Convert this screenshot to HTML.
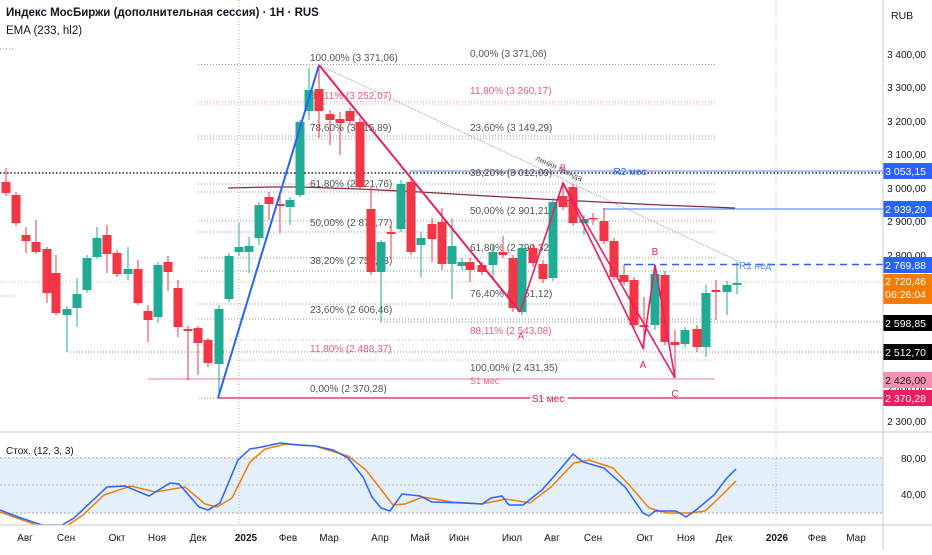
<!DOCTYPE html>
<html><head><meta charset="utf-8">
<style>
html,body{margin:0;padding:0;background:#fff;}
body{width:932px;height:550px;overflow:hidden;font-family:"Liberation Sans","DejaVu Sans",sans-serif;}
svg text{font-family:"Liberation Sans","DejaVu Sans",sans-serif;}
</style></head>
<body>
<svg id="c" width="932" height="550" viewBox="0 0 932 550" xmlns="http://www.w3.org/2000/svg">
<rect width="932" height="550" fill="#fff"/>
<!-- stoch band -->
<rect x="0" y="458" width="883" height="55" fill="#e3f0fb"/>
<line x1="0" y1="458" x2="883" y2="458" stroke="#9aa" stroke-dasharray="2,2"/>
<line x1="0" y1="485" x2="883" y2="485" stroke="#bbb" stroke-dasharray="2,2"/>
<line x1="0" y1="513" x2="883" y2="513" stroke="#9aa" stroke-dasharray="2,2"/>
<!-- verticals -->
<line x1="239" y1="0" x2="239" y2="525" stroke="#bbb" stroke-dasharray="1,2"/>
<line x1="776" y1="0" x2="776" y2="525" stroke="#bbb" stroke-dasharray="1,2"/>
<g id="g"></g>
<!-- panels -->
<line x1="0" y1="432" x2="932" y2="432" stroke="#c8c8c8"/>
<line x1="0" y1="525" x2="932" y2="525" stroke="#c8c8c8"/>
<line x1="883" y1="0" x2="883" y2="550" stroke="#c8c8c8"/>
<text x="6" y="16" font-size="11.5" font-weight="bold" fill="#131722">Индекс МосБиржи (дополнительная сессия) · 1H · RUS</text>
<text x="6" y="34" font-size="11.5" fill="#131722">EMA (233, hl2)</text>
<text x="891" y="19" font-size="10.5" fill="#131722">RUB</text>
<text x="6" y="454" font-size="10" fill="#131722">Стох. (12, 3, 3)</text>
</svg>
<script>
const g=document.getElementById('g');const NS='http://www.w3.org/2000/svg';
function el(t,a,txt){const e=document.createElementNS(NS,t);for(const k in a)e.setAttribute(k,a[k]);if(txt!==undefined)e.textContent=txt;g.appendChild(e);return e;}
function line(x1,y1,x2,y2,s,w,d){el('line',{x1,y1,x2,y2,stroke:s,'stroke-width':w||1,'stroke-dasharray':d||''});}
function text(x,y,t,c,fs,anchor,fw){el('text',{x,y,fill:c,'font-size':fs||10,'text-anchor':anchor||'start','font-weight':fw||'normal'},t);}
// horizontal ref lines
line(0,282,883,282,'#f5b97a',1,'1,2');
line(0,173,883,173,'#222',1.5,'1.5,2');
line(67,352,883,352,'#888',1,'1,2');
line(381,322,883,322,'#888',1,'1,2');
// fib lines
const fg=[[64.5,'#999'],[136,'#999'],[139,'#999'],[184,'#999'],[192,'#999'],[221,'#999'],[232,'#999'],[258,'#999'],[271,'#999'],[304,'#999'],[319,'#999'],[398,'#999']];
fg.forEach(f=>line(198,f[0],715,f[0],f[1],1,'1,2'));
[[104],[101.6],[340],[360]].forEach(f=>line(198,f[0],715,f[0],'#f4a6b6',1,'1,2'));
line(148,379,715,379,'#f4a6b6',1.5);
line(0,49,15,49,'#999',1,'1,2');line(0,296,15,296,'#999',1,'1,2');
// blue lines
line(410,171,883,171,'#5b8def',1);
line(603,209,883,209,'#3b7bea',1);
line(624,264.5,883,264.5,'#2962ff',1.5,'7,5');
// magenta S1
line(218,398,530,398,'#d81b60',1.2);line(568,398,883,398,'#d81b60',1.2);
text(548,402,'S1 мес','#d81b60',10,'middle');
text(470,384,'S1 мес','#f06292',9);
text(630,175,'R2 мес','#2962ff',10,'middle');
text(739,269,'R1 нед','#5b8def',10);
// fib labels left
const L=[[61,'100,00% (3 371,06)','#555'],[99,'88,11% (3 252,07)','#f05a78'],[131,'78,60% (3 115,89)','#555'],[187,'61,80% (2 921,76)','#555'],[226,'50,00% (2 870,77)','#555'],[264,'38,20% (2 752,73)','#555'],[313,'23,60% (2 606,46)','#555'],[352,'11,80% (2 488,37)','#f05a78'],[392,'0,00% (2 370,28)','#555']];
L.forEach(l=>text(310,l[0],l[1],l[2],10));
const R=[[57,'0,00% (3 371,06)','#555'],[94,'11,80% (3 260,17)','#f05a78'],[131,'23,60% (3 149,29)','#555'],[176,'38,20% (3 012,09)','#555'],[214,'50,00% (2 901,21)','#555'],[251,'61,80% (2 790,32)','#555'],[297,'76,40% (2 651,12)','#555'],[334,'88,11% (2 543,08)','#f05a78'],[371,'100,00% (2 431,35)','#555']];
R.forEach(l=>text(470,l[0],l[1],l[2],10));
// trend line
line(319,65,740,262,'#888',0.8,'1,1');
el('text',{x:535,y:160,fill:'#555','font-size':8,transform:'rotate(25 535 160)'},'линия тренда');
// EMA
el('polyline',{points:'228,188 270,187 300,187 360,189 420,192 470,195 540,199 600,202 660,205 735,208',fill:'none',stroke:'#8b2c3a','stroke-width':1.3});
// candles [x,bt,bb,wt,wb,c]
const C=[[6,182,193,168,196,'r'],[16,195,223,192,226,'r'],[26,235,241,227,253,'r'],[36,242,252,220,254,'r'],[47,249,293,247,303,'r'],[56,273,313,255,315,'r'],[67,309,315,306,352,'g'],[77,294,308,278,327,'g'],[87,258,290,255,293,'g'],[97,238,257,227,259,'g'],[107,235,254,225,273,'r'],[117,253,274,250,277,'r'],[128,269,274,247,280,'g'],[138,269,303,260,305,'r'],[148,311,320,305,342,'r'],[158,265,317,262,323,'g'],[168,262,272,256,291,'r'],[178,288,327,280,337,'r'],[188,329,331,326,380,'r'],[198,328,343,326,375,'r'],[208,340,363,338,367,'r'],[219,309,364,305,398,'g'],[229,256,299,253,302,'g'],[239,247,252,223,256,'g'],[249,246,252,237,273,'g'],[259,205,238,202,245,'g'],[269,197,204,192,220,'r'],[280,204,206,195,233,'r'],[290,200,207,197,225,'g'],[300,122,195,120,197,'g'],[309,90,111,68,120,'g'],[319,89,111,65,138,'r'],[330,114,120,110,145,'r'],[340,119,123,112,155,'r'],[350,111,121,108,125,'r'],[360,122,187,118,190,'r'],[371,209,272,187,275,'r'],[381,242,272,240,322,'g'],[391,232,234,225,260,'r'],[401,184,229,180,232,'g'],[411,182,252,180,255,'r'],[421,238,245,232,277,'g'],[432,224,239,218,262,'r'],[442,222,264,208,270,'r'],[452,246,264,218,299,'g'],[462,262,266,258,270,'g'],[470,262,270,258,282,'r'],[482,265,272,262,275,'r'],[493,252,265,245,280,'g'],[503,252,255,236,258,'r'],[513,258,308,255,312,'r'],[522,248,312,245,315,'g'],[533,248,263,244,267,'r'],[543,264,279,260,283,'r'],[553,202,278,198,281,'g'],[563,196,207,182,210,'r'],[573,187,223,184,226,'r'],[584,219,223,215,235,'g'],[593,218,219,213,225,'r'],[604,221,241,208,244,'r'],[614,241,277,238,280,'r'],[624,275,282,265,285,'r'],[634,280,325,277,328,'r'],[644,325,327,297,348,'r'],[655,274,325,265,330,'g'],[665,275,342,271,345,'r'],[675,342,345,330,378,'r'],[685,330,344,327,347,'g'],[697,329,347,325,352,'r'],[706,293,347,285,357,'g'],[716,290,292,280,320,'r'],[727,285,292,281,315,'g'],[737,283,285,262,294,'g']];
C.forEach(c=>{const col=c[5]=='g'?'#22ab94':'#f23645';line(c[0],c[3],c[0],c[4],col,1);el('rect',{x:c[0]-4.5,y:c[1],width:9,height:Math.max(1.5,c[2]-c[1]),fill:col});});
// blue leg, red legs
line(218,398,319,65,'#2962ff',2);
line(319,65,520,312,'#e91e63',2);
el('polyline',{points:'520,312 563,183 643,348 655,265 675,378',fill:'none',stroke:'#e91e63','stroke-width':1.6});
line(563,183,675,378,'#e91e63',1.6);
text(563,171,'B','#e91e63',9,'middle');text(521,339,'A','#e91e63',9,'middle');
text(655,255,'B','#e91e63',10,'middle');text(643,368,'A','#e91e63',10,'middle');text(675,397,'C','#e91e63',10,'middle');
// price axis
[[3400,54],[3300,87],[3200,121],[3100,154],[3000,188],[2900,221],[2800,255],[2400,388],[2300,421]].forEach(p=>text(926,p[1]+4,p[0].toLocaleString('ru-RU',{minimumFractionDigits:2}).replace(/\u00a0|\u202f/g,' '),'#131722',10,'end'));
function tag(y,t,bg,fg,h){el('rect',{x:883,y:y-(h||16)/2,width:49,height:h||16,fill:bg});text(926,y+4,t,fg,10.5,'end');}
tag(171,'3 053,15','#2962ff','#fff');tag(209,'2 939,20','#2962ff','#fff');tag(265,'2 769,88','#2962ff','#fff');
el('rect',{x:883,y:274,width:49,height:30,fill:'#f57c00'});text(926,285,'2 720,46','#fff',10.5,'end');text(926,298,'06:26:04','#fff',10.5,'end');
tag(323,'2 598,85','#000','#fff');tag(352,'2 512,70','#000','#fff');tag(380,'2 426,00','#f48fb1','#131722');tag(398,'2 370,28','#e91e63','#fff');
// stoch
text(926,462,'80,00','#131722',10,'end');text(926,498,'40,00','#131722',10,'end');
const K='0,510 18,517 42,525 62,525 74,518 107,487 125,486 149,496 170,483 179,484 199,507 208,510 220,503 238,460 250,449 262,447 280,443 298,445 315,446 333,450 348,458 363,477 372,497 381,508 390,511 402,494 420,496 432,502 464,503 482,504 491,498 502,496 509,505 523,505 542,490 557,473 573,454 583,462 604,468 625,487 643,513 649,516 655,511 676,511 686,517 696,510 714,495 726,479 736,469';
const D='0,512 42,527 65,527 83,515 104,495 131,486 155,492 185,487 205,504 217,507 232,498 250,462 265,449 286,444 315,446 348,456 366,470 393,505 405,504 423,497 452,502 482,504 506,499 530,503 551,487 574,463 589,460 613,468 631,487 649,508 667,513 690,513 705,511 720,497 736,481';
const cp=el('clipPath',{id:'cp'});const r=document.createElementNS(NS,'rect');r.setAttribute('x',0);r.setAttribute('y',433);r.setAttribute('width',883);r.setAttribute('height',92);cp.appendChild(r);
el('polyline',{points:D,fill:'none',stroke:'#f57c00','stroke-width':1.5,'clip-path':'url(#cp)'});
el('polyline',{points:K,fill:'none',stroke:'#2962ff','stroke-width':1.5,'clip-path':'url(#cp)'});
// time axis
[['Авг',25],['Сен',66],['Окт',117],['Ноя',157],['Дек',198],['2025',246,1],['Фев',288],['Мар',329],['Апр',380],['Май',420],['Июн',459],['Июл',512],['Авг',552],['Сен',593],['Окт',645],['Ноя',686],['Дек',724],['2026',777,1],['Фев',817],['Мар',856]].forEach(t=>text(t[1],541,t[0],'#131722',10,'middle',t[2]?'bold':'normal'));
</script>
</body></html>
